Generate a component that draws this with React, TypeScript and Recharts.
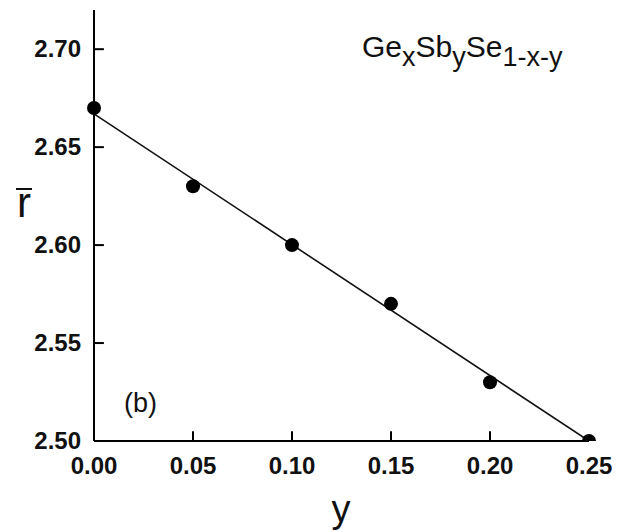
import {
  ComposedChart,
  Line,
  Scatter,
  XAxis,
  YAxis,
  ReferenceLine,
} from "recharts";

// measured composition points (y content vs mean coordination number r)
const yContent = [0.0, 0.05, 0.1, 0.15, 0.2, 0.25];
const rMean = [2.67, 2.63, 2.6, 2.57, 2.53, 2.5];

// straight-line fit as drawn in the figure (end points)
const fitX = [0.0, 0.25];
const fitR = [2.667, 2.5];

const xTicks = [0.0, 0.05, 0.1, 0.15, 0.2, 0.25];
const yTicks = [2.5, 2.55, 2.6, 2.65, 2.7];

const points = yContent.map((x, i) => ({ x, r: rMean[i] }));
const fitLine = fitX.map((x, i) => ({ x, fit: fitR[i] }));

const FONT = "'Liberation Sans', Arial, sans-serif";
const X_MIN = 0;
const Y_MIN = 2.5;
// inward tick length (~10px) expressed in axis units
const X_TICK_LEN = 0.005;
const Y_TICK_LEN = 0.005;

const renderXTick = (props: any) => {
  const { x, y, payload } = props;
  return (
    <text x={x} y={y + 33} textAnchor="middle" fontFamily={FONT} fontWeight="bold" fontSize={24} fill="#111">
      {Number(payload.value).toFixed(2)}
    </text>
  );
};

const renderYTick = (props: any) => {
  const { x, y, payload } = props;
  return (
    <text x={x - 13} y={y + 8} textAnchor="end" fontFamily={FONT} fontWeight="bold" fontSize={24} fill="#111">
      {Number(payload.value).toFixed(2)}
    </text>
  );
};

export default function App() {
  return (
    <div style={{ position: "absolute", left: 0, top: 0, width: 621, height: 532, background: "#fff" }}>
      <ComposedChart
        width={621}
        height={532}
        margin={{ top: 10, right: 32, left: 10, bottom: 41 }}
      >
        <XAxis
          xAxisId="b"
          dataKey="x"
          type="number"
          domain={[0, 0.25]}
          ticks={xTicks}
          height={50}
          tickSize={0}
          tickMargin={0}
          tickLine={false}
          axisLine={{ stroke: "#000", strokeWidth: 2 }}
          tick={renderXTick}
          interval={0}
        />
        <XAxis
          xAxisId="t"
          orientation="top"
          type="number"
          dataKey="x"
          domain={[0, 0.25]}
          height={0}
          tick={false}
          tickLine={false}
          axisLine={{ stroke: "#000", strokeWidth: 2 }}
        />
        <YAxis
          yAxisId="l"
          type="number"
          domain={[2.5, 2.72]}
          ticks={yTicks}
          width={84}
          tickSize={0}
          tickMargin={0}
          tickLine={false}
          axisLine={{ stroke: "#000", strokeWidth: 2 }}
          tick={renderYTick}
          interval={0}
          allowDataOverflow
        />
        <YAxis
          yAxisId="r"
          orientation="right"
          type="number"
          domain={[2.5, 2.72]}
          width={0}
          tick={false}
          tickLine={false}
          axisLine={{ stroke: "#000", strokeWidth: 2 }}
        />
        {xTicks.slice(1, -1).map((t) => (
          <ReferenceLine
            key={`xt${t}`}
            xAxisId="b"
            yAxisId="l"
            segment={[{ x: t, y: Y_MIN }, { x: t, y: Y_MIN + Y_TICK_LEN }]}
            stroke="#000"
            strokeWidth={2}
          />
        ))}
        {yTicks.slice(1).map((t) => (
          <ReferenceLine
            key={`yt${t}`}
            xAxisId="b"
            yAxisId="l"
            segment={[{ x: X_MIN, y: t }, { x: X_MIN + X_TICK_LEN, y: t }]}
            stroke="#000"
            strokeWidth={2}
          />
        ))}
        <Line
          xAxisId="b"
          yAxisId="l"
          data={fitLine}
          dataKey="fit"
          stroke="#111"
          strokeWidth={1.6}
          dot={false}
          activeDot={false}
          isAnimationActive={false}
        />
        <Scatter
          xAxisId="b"
          yAxisId="l"
          data={points}
          dataKey="r"
          fill="#000"
          shape={(p: any) => <circle cx={p.cx} cy={p.cy} r={7} fill="#000" />}
          isAnimationActive={false}
        />
        <text x={341} y={522} textAnchor="middle" fontFamily={FONT} fontSize={38} fill="#111">
          y
        </text>
        <text x={24} y={217} textAnchor="middle" fontFamily={FONT} fontSize={42} fill="#111">
          r
        </text>
        <path d="M16,189H32" stroke="#111" strokeWidth={2} />
        <text x={124} y={412} fontFamily={FONT} fontSize={27} fill="#111">
          (b)
        </text>
        <text x={362} y={57} fontFamily={FONT} fontSize={30} fill="#111">
          Ge
          <tspan dy={9} fontSize={27}>x</tspan>
          <tspan dy={-9}>Sb</tspan>
          <tspan dy={9} fontSize={27}>y</tspan>
          <tspan dy={-9}>Se</tspan>
          <tspan dy={9} fontSize={27}>1-x-y</tspan>
        </text>
      </ComposedChart>
    </div>
  );
}
